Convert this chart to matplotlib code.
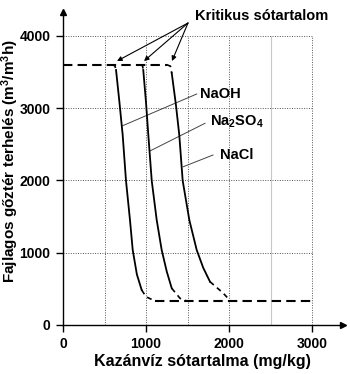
import matplotlib
matplotlib.use("Agg")
import matplotlib.pyplot as plt

plt.rcParams['font.family'] = ['Liberation Sans', 'DejaVu Sans']
plt.rcParams['font.weight'] = 'bold'
plt.rcParams['mathtext.fontset'] = 'custom'
plt.rcParams['mathtext.rm'] = 'Liberation Sans:bold'
plt.rcParams['mathtext.it'] = 'Liberation Sans:bold'
plt.rcParams['mathtext.bf'] = 'Liberation Sans:bold'

# Solid part of each critical curve (salt content mg/kg, load m3/m3h)
naoh_x = [639, 680, 719, 759, 807, 840, 890, 948]
naoh_y = [3527, 3080, 2628, 1996, 1452, 1037, 700, 484]
na2so4_x = [967, 1000, 1028, 1069, 1129, 1189, 1250, 1310]
na2so4_y = [3527, 3080, 2628, 1996, 1452, 1037, 740, 508]
nacl_x = [1310, 1360, 1401, 1442, 1522, 1611, 1690, 1771]
nacl_y = [3485, 3050, 2628, 1996, 1452, 1037, 790, 599]

# Dashed transitions at top and bottom of each curve
naoh_top_x, naoh_top_y = [595, 625, 639], [3600, 3585, 3527]
na2so4_top_x, na2so4_top_y = [935, 958, 967], [3600, 3585, 3527]
nacl_top_x, nacl_top_y = [1250, 1295, 1310], [3600, 3580, 3485]
naoh_bot_x, naoh_bot_y = [948, 1000, 1108], [484, 391, 332]
na2so4_bot_x, na2so4_bot_y = [1310, 1410, 1490], [508, 369, 332]
nacl_bot_x, nacl_bot_y = [1771, 1928, 2012], [599, 443, 340]

# Upper and lower plateaus
upper_x, upper_y = [0, 1250], [3600, 3600]
lower_x, lower_y = [1108, 3000], [332, 332]

xticks = [0, 1000, 2000, 3000]
yticks = [0, 1000, 2000, 3000, 4000]
vgrid = [500, 1000, 1500, 2000, 2500, 3000]
hgrid = [1000, 2000, 3000, 4000]

W, H = 350, 374
fig = plt.figure(figsize=(W / 100, H / 100), dpi=100)
xmax, ymax = 3370, 4330
px_x, px_y = 0.083, 0.0723
ax = fig.add_axes([63 / W, 49 / H, xmax * px_x / W, ymax * px_y / H])
ax.set_xlim(0, xmax)
ax.set_ylim(0, ymax)

for gx in vgrid:
    if gx == 2500:
        ax.vlines(gx, 0, 4000, color='#c8c8c8', lw=0.8, zorder=1)
    else:
        ax.vlines(gx, 0, 4000, color='#555555', lw=0.7, ls=(0, (1, 1.5)), zorder=1)
for gy in hgrid:
    ax.hlines(gy, 0, 3000, color='#555555', lw=0.7, ls=(0, (1, 1.5)), zorder=1)

solid = dict(color='black', lw=1.3, zorder=3)
dash = dict(color='black', lw=1.5, ls=(0, (4.5, 2.5)), zorder=3)
ax.plot(naoh_x, naoh_y, **solid)
ax.plot(na2so4_x, na2so4_y, **solid)
ax.plot(nacl_x, nacl_y, **solid)
ax.plot(upper_x, upper_y, **dash)
ax.plot(lower_x, lower_y, **dash)
thin_dash = dict(color='black', lw=1.2, ls=(0, (3, 2.5)), zorder=3)
for xs, ys in [(naoh_top_x, naoh_top_y), (na2so4_top_x, na2so4_top_y),
               (nacl_top_x, nacl_top_y), (naoh_bot_x, naoh_bot_y),
               (na2so4_bot_x, na2so4_bot_y), (nacl_bot_x, nacl_bot_y)]:
    ax.plot(xs, ys, **thin_dash)

# Axes with arrowheads
for s in ['top', 'right']:
    ax.spines[s].set_visible(False)
for s in ['left', 'bottom']:
    ax.spines[s].set_linewidth(1.0)
ax.plot(1, 0, '>k', ms=4, transform=ax.get_yaxis_transform(), clip_on=False)
ax.plot(0, 1, '^k', ms=4, transform=ax.get_xaxis_transform(), clip_on=False)

ax.set_xticks(xticks)
ax.set_yticks(yticks)
ax.tick_params(direction='out', length=5, width=1, labelsize=10, pad=4)
for lab in ax.get_xticklabels() + ax.get_yticklabels():
    lab.set_fontweight('bold')

ax.set_xlabel('Kazánvíz sótartalma (mg/kg)', fontsize=11.5, fontweight='bold', labelpad=2)
ax.set_ylabel('Fajlagos gőztér terhelés (m$^{3}$/m$^{3}$h)', fontsize=11, fontweight='bold')
ax.yaxis.set_label_coords(-0.15, 0.525)

# Critical salt content callout
src = (1506, 4177)
for tgt in [(651, 3651), (976, 3651), (1313, 3651)]:
    ax.annotate('', xy=tgt, xytext=src,
                arrowprops=dict(arrowstyle='-|>', color='black', lw=0.8,
                                mutation_scale=7, shrinkA=0, shrinkB=0),
                annotation_clip=False)
ax.text(1590, 4275, 'Kritikus sótartalom', fontsize=10.5, fontweight='bold',
        ha='left', va='center', clip_on=False)

# Curve labels with leader lines
lead = dict(color='#444444', lw=0.7, zorder=2)
ax.plot([720, 1611], [2757, 3195], **lead)
ax.text(1651, 3190, 'NaOH', fontsize=10.5, fontweight='bold', ha='left', va='center')
ax.plot([1048, 1711], [2407, 2790], **lead)
ax.text(1771, 2808, 'Na$_{2}$SO$_{4}$', fontsize=10.5, fontweight='bold', ha='left', va='center')
ax.plot([1449, 1807], [2189, 2351], **lead)
ax.text(1892, 2351, 'NaCl', fontsize=10.5, fontweight='bold', ha='left', va='center')

fig.savefig('out.png', dpi=100, facecolor='white')
